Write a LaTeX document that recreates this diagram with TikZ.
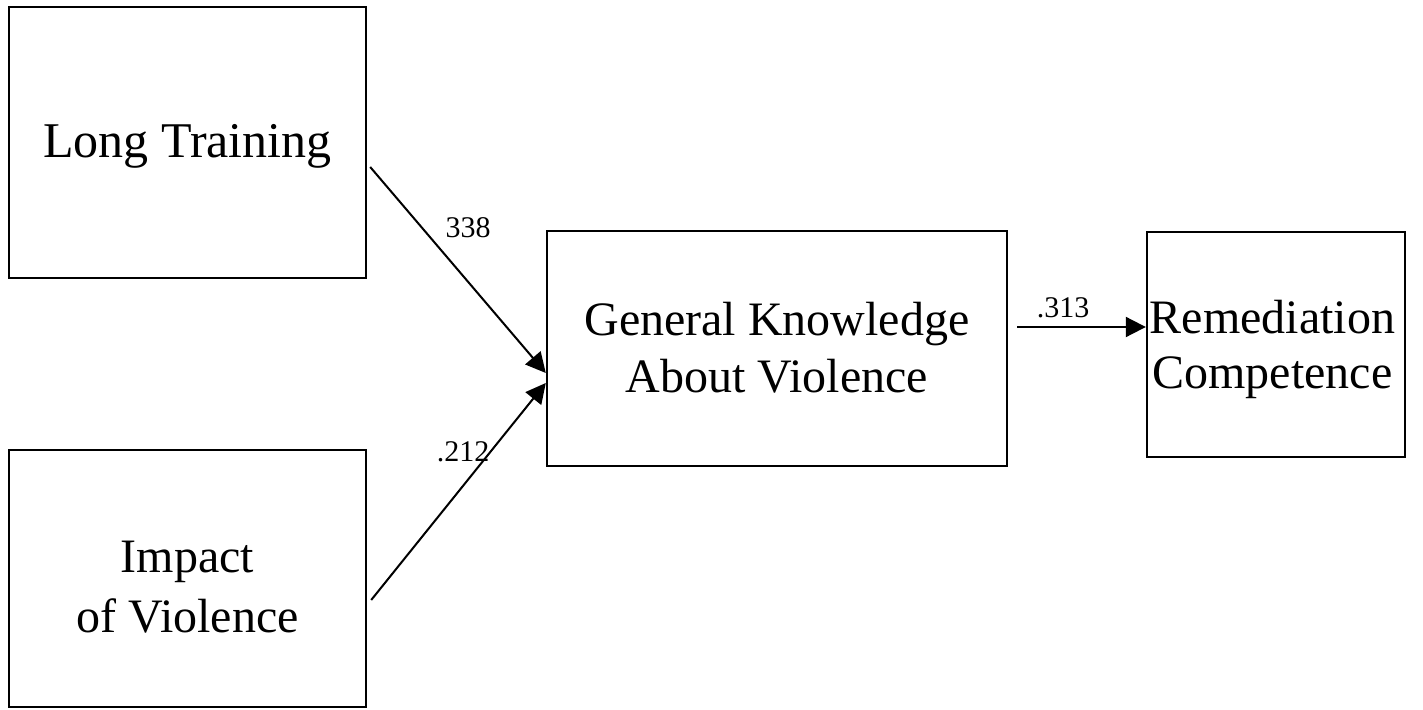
\documentclass[tikz,border=0pt]{standalone}
\usepackage{fontspec}
\setmainfont{Liberation Serif}
\usetikzlibrary{arrows.meta}
\begin{document}
\begin{tikzpicture}[x=0.5pt,y=-0.5pt,
  box/.style={draw=black,line width=1.2pt,rectangle,inner sep=0pt},
  boxtext/.style={inner sep=0pt,align=center},
  conn/.style={line width=1pt,-{Triangle[length=10pt,width=10pt]}},
  coef/.style={inner sep=0pt,font=\fontsize{15}{18}\selectfont}]
\useasboundingbox (0,0) rectangle (1423,710);
% boxes
\node[box,minimum width=178.5pt,minimum height=135.5pt] (lt) at (187.5,142.5) {};
\node[box,minimum width=178.5pt,minimum height=128.5pt] (iv) at (187.5,578.5) {};
\node[box,minimum width=230pt,minimum height=117.5pt] (gk) at (777,348.5) {};
\node[box,minimum width=129pt,minimum height=112.5pt] (rc) at (1276,344.5) {};
% texts
\node[boxtext,font=\fontsize{25}{30}\selectfont] (ltt) at (187.5,146) {Long Training};
\node[boxtext,font=\fontsize{24}{30}\selectfont] (ivt) at (187.5,587) {Impact\\of Violence};
\node[boxtext,font=\fontsize{24}{28.5}\selectfont] (gkt) at (777,348) {General Knowledge\\About Violence};
\node[boxtext,font=\fontsize{24}{27.5}\selectfont] (rct) at (1272.5,349) {Remediation\\Competence};
% connectors
\draw[conn] ([shift={(3,24.5)}]lt.east) -- ([shift={(0,24.5)}]gk.west);
\draw[conn] ([shift={(4,21.5)}]iv.east) -- ([shift={(0,34.5)}]gk.west);
\draw[conn] ([shift={(9,-21.5)}]gk.east) -- ([shift={(0,-17.5)}]rc.west);
% coefficients
\node[coef] (c1) at (468,228) {338};
\node[coef] (c2) at (463,452) {.212};
\node[coef] (c3) at (1063,308) {.313};
\end{tikzpicture}
\end{document}
